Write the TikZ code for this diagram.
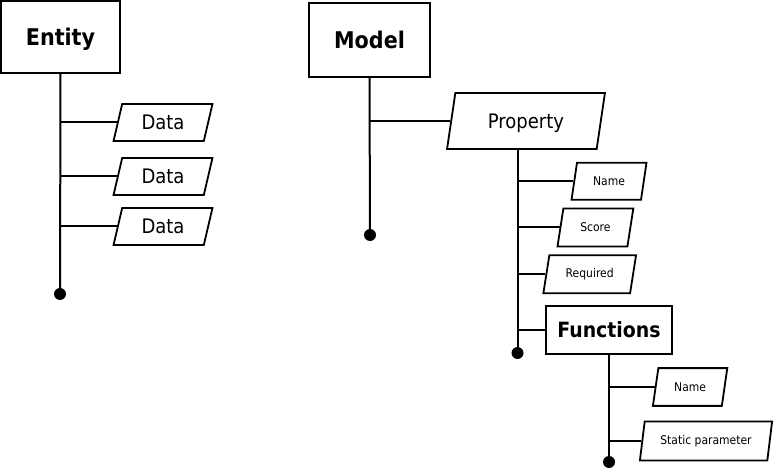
\documentclass[tikz,border=0pt]{standalone}
\usepackage{fontspec}
\setmainfont{DejaVu Sans Condensed}[BoldFont={DejaVu Sans Condensed Bold}]
\usetikzlibrary{shapes.geometric}
\tikzset{
  ln/.style={line width=2pt, line cap=butt},
  titlebox/.style={draw, line width=2pt, rectangle, inner sep=0pt, text depth=0pt, font=\bfseries\fontsize{23}{26}\selectfont},
  para/.style={draw, line width=1.8pt, trapezium, trapezium left angle=73, trapezium right angle=107,
    trapezium stretches=true, inner sep=0pt},
  bigtxt/.style={font=\fontsize{20}{23}\selectfont},
  smalltxt/.style={font=\fontsize{12}{14}\selectfont},
  enddot/.style={circle, fill=black, inner sep=0pt, minimum size=12pt},
}
\begin{document}
\begin{tikzpicture}[x=1pt,y=-1pt]
\useasboundingbox (0,0) rectangle (774,470);

% Entity tree
\node[titlebox, minimum width=119pt, minimum height=72pt] (ent) at (60.5,37) {Entity};
\node[para, bigtxt, minimum width=99pt, minimum height=37pt] (d1) at (163,122.5) {Data};
\node[para, bigtxt, minimum width=99pt, minimum height=37pt] (d2) at (163,176.5) {Data};
\node[para, bigtxt, minimum width=99pt, minimum height=37pt] (d3) at (163,226.5) {Data};
\node[enddot] (entend) at (60,294) {};
\draw[ln] (ent.south) -- (entend.center);
\draw[ln] (d1.left side) -- (d1.left side -| ent.south);
\draw[ln] (d2.left side) -- (d2.left side -| ent.south);
\draw[ln] (d3.left side) -- (d3.left side -| ent.south);

% Model tree
\node[titlebox, minimum width=121pt, minimum height=74pt] (mod) at (369.5,40) {Model};
\node[para, bigtxt, text depth=0pt, minimum width=159pt, minimum height=56pt] (prop) at (526,121) {Property};
\node[enddot] (modend) at (370,235) {};
\draw[ln] (mod.south) -- (modend.center);
\draw[ln] (prop.left side) -- (prop.left side -| mod.south);

% Property subtree
\node[para, smalltxt, minimum width=75pt, minimum height=37pt] (pname) at (609,181.3) {Name};
\node[para, smalltxt, minimum width=76pt, minimum height=38pt] (pscore) at (595.4,227.5) {Score};
\node[para, smalltxt, minimum width=93pt, minimum height=38pt] (preq) at (589.7,274.3) {Required};
\node[titlebox, font=\bfseries\fontsize{21}{24}\selectfont, minimum width=126.6pt, minimum height=48.3pt] (func) at (609,330) {Functions};
\node[enddot] (propend) at (517.5,353) {};
\draw[ln] (propend |- prop.south) -- (propend.center);
\draw[ln] (pname.left side) -- (pname.left side -| propend);
\draw[ln] (pscore.left side) -- (pscore.left side -| propend);
\draw[ln] (preq.left side) -- (preq.left side -| propend);
\draw[ln] (func.west) -- (func.west -| propend);

% Functions subtree
\node[para, smalltxt, minimum width=74.4pt, minimum height=37.7pt] (fname) at (690.1,387) {Name};
\node[para, smalltxt, minimum width=133pt, minimum height=39pt] (fstat) at (706,441) {Static parameter};
\node[enddot] (funcend) at (609,462) {};
\draw[ln] (func.south) -- (funcend.center);
\draw[ln] (fname.left side) -- (fname.left side -| func.south);
\draw[ln] (fstat.left side) -- (fstat.left side -| func.south);
\end{tikzpicture}
\end{document}
